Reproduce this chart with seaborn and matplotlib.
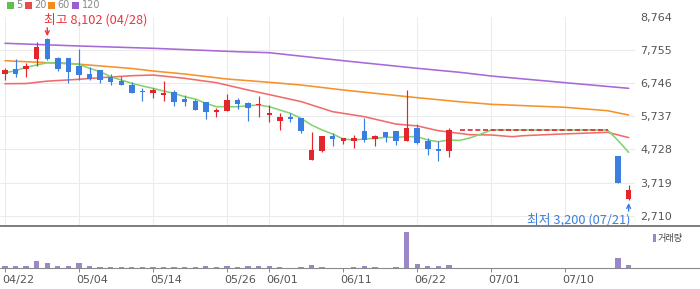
import numpy as np
import pandas as pd
import seaborn as sns
import matplotlib.pyplot as plt
import matplotlib.transforms as mtransforms
from matplotlib.patches import Rectangle
from matplotlib.lines import Line2D

# KRX trading days shown on the chart
holidays = ['2026-05-01', '2026-05-05', '2026-05-25', '2026-06-03', '2026-07-17']
days = pd.bdate_range('2026-04-22', '2026-07-21', freq='C', holidays=holidays)

# daily candles (06/26 - 07/16: trading halt, no volume)
open_ = [7026, 7169, 7178, 7482, 8080, 7503, 7503, 7260, 7017, 7138,
         6935, 6804, 6683, 6510, 6449, 6388, 6470, 6257, 6197, 6166,
         5862, 5893, 6227, 6136, 6066, 5781, 5598, 5711, 5680, 4404,
         4678, 5133, 4990, 4990, 5285, 5033, 5255, 5285, 4990, 5376,
         4982, 4738, 4687] + [5316] * 15 + [4526, 3229]
high = [7208, 7473, 7360, 7980, 8102, 7520, 7510, 7776, 7220, 7150,
        7017, 6956, 6783, 6582, 6582, 6804, 6531, 6379, 6248, 6170,
        5993, 6409, 6288, 6166, 6358, 6075, 5823, 5841, 5690, 5264,
        5140, 5215, 5075, 5164, 5671, 5164, 5260, 5290, 6531, 5498,
        5063, 4982, 5376] + [5316] * 15 + [4526, 3645]
low = [6835, 6935, 6935, 7260, 7442, 7117, 6734, 6835, 6835, 6753,
       6683, 6683, 6430, 6206, 6297, 6206, 6054, 6054, 5923, 5650,
       5720, 5890, 5963, 5589, 5720, 5568, 5316, 5568, 5234, 4400,
       4657, 4839, 4881, 4778, 4960, 4839, 4960, 4860, 4990, 4900,
       4556, 4383, 4504] + [5316] * 15 + [3715, 3200]
close = [7138, 7026, 7260, 7828, 7482, 7178, 7087, 6996, 6874, 6835,
         6783, 6692, 6449, 6461, 6531, 6440, 6175, 6175, 5932, 5872,
         5923, 6227, 6115, 5984, 6084, 5832, 5711, 5659, 5294, 4708,
         5133, 5042, 5073, 5073, 5012, 5133, 5112, 4990, 5376, 4930,
         4747, 4687, 5316] + [5316] * 15 + [3715, 3493]
volume = [85, 85, 85, 335, 235, 85, 85, 235, 85, 35,
          35, 35, 35, 35, 35, 35, 35, 35, 35, 85,
          35, 85, 35, 85, 85, 85, 35, 10, 35, 135,
          35, 10, 10, 35, 85, 35, 10, 35, 1800, 185,
          85, 85, 135] + [0] * 15 + [500, 135]

# moving averages
ma5 = [7056, 7117, 7220, 7290, 7360, 7360, 7342, 7312, 7190, 7087,
       6935, 6835, 6734, 6652, 6582, 6500, 6430, 6327, 6257, 6127,
       6023, 6023, 6023, 6054, 6075, 6023, 5923, 5823, 5671, 5467,
       5316, 5194, 5042, 5012, 5042, 5063, 5094, 5094, 5112, 5112,
       5012, 4960, 5012, 4999, 5076, 5190] + [5316] * 12 + [4996, 4638]
ma20_day = [0, 2, 4, 7, 9, 12, 14, 17, 20, 23, 28, 31, 34, 37, 39, 41, 44, 46, 48, 49, 52, 57, 59]
ma20 = [6722, 6728, 6800, 6856, 6904, 6965, 6986, 6886, 6753, 6531, 6180, 5872,
        5720, 5495, 5440, 5294, 5173, 5164, 5112, 5142, 5185, 5245, 5085]
ma60_day = [0, 7, 12, 14, 17, 21, 25, 28, 32, 39, 43, 46, 53, 57, 59]
ma60 = [7421, 7315, 7184, 7108, 7017, 6865, 6765, 6683, 6531, 6297, 6175, 6096, 6005, 5902, 5771]
ma120_day = [0, 7, 14, 22, 25, 32, 39, 43, 46, 53, 59]
ma120 = [7950, 7868, 7798, 7694, 7664, 7421, 7190, 7069, 6956, 6753, 6582]

tick_days = ['04/22', '05/04', '05/14', '05/26', '06/01', '06/11', '06/22', '07/01', '07/10']
price_ticks = [2710, 3719, 4728, 5737, 6746, 7755, 8764]

W, H = 700, 289
UP, DOWN = '#e2262b', '#3a7ee0'
KR = ['Noto Sans CJK KR', 'DejaVu Sans']

sns.set_theme(style='white')
plt.rcParams['font.family'] = ['DejaVu Sans']

df = pd.DataFrame(dict(day=days, open=open_, high=high, low=low, close=close, volume=volume))
df['x'] = np.arange(len(df))
labels = df.day.dt.strftime('%m/%d')
tick_idx = [labels.tolist().index(t) for t in tick_days]

fig = plt.figure(figsize=(W / 100, H / 100), dpi=100)


def box(l, t, r, b):
    return [l / W, 1 - b / H, (r - l) / W, (b - t) / H]


ax = fig.add_axes(box(0, 16.5, 635, 226))
vax = fig.add_axes(box(0, 226, 635, 268))

# moving average lines
for xs, ys, c in [(ma120_day, ma120, '#a868d8'), (ma60_day, ma60, '#f5922a'),
                  (ma20_day, ma20, '#f26b6b'), (df.x, ma5, '#84d270')]:
    sns.lineplot(x=list(xs), y=ys, ax=ax, color=c, lw=1.15, zorder=2)

# candles
tr = df[df.volume > 0]
col = np.where(tr.close >= tr.open, UP, DOWN)
ax.vlines(tr.x, tr.low, tr.high, colors=col, lw=0.85, zorder=3)
body = np.maximum((tr.close - tr.open).abs(), 30)
ax.bar(tr.x, body, bottom=np.minimum(tr.open, tr.close), width=0.52, color=col, lw=0, zorder=4)

# halted days
hl = df[df.volume == 0]
ax.plot(hl.x, hl.close, color=UP, lw=1.2, ls=(0, (3, 1.6)), zorder=5)

ax.set_xlim(-0.473, 59.6)
ax.set_ylim(2399, 8764)
ax.set_xticks(tick_idx)
ax.set_yticks(price_ticks)
ax.set_yticklabels([f'{v:,}' for v in price_ticks])
ax.set(xlabel='', ylabel='')
ax.set_axisbelow(True)
ax.grid(True, color='#ebebeb', lw=0.75)
ax.yaxis.tick_right()
ax.tick_params(axis='x', length=0, labelbottom=False)
ax.tick_params(axis='y', length=0, pad=3.6, labelsize=8, labelcolor='#555555')
sns.despine(ax=ax, left=True, bottom=True)

# high / low marks
hi_i = df.high.idxmax()
lo_i = df.low.idxmin()
hi, lo = df.high[hi_i], df.low[lo_i]
ax.annotate(f'최고 {hi:,} ({labels[hi_i]})', xy=(hi_i, hi), xytext=(-3, 12),
            textcoords='offset pixels', ha='left', va='bottom', color='#f0333b',
            fontsize=9.2, family=KR, annotation_clip=False)
ax.annotate('', xy=(hi_i, hi), xytext=(0, 10.5), textcoords='offset pixels',
            arrowprops=dict(arrowstyle='->', color='#f0333b', lw=1, shrinkA=0, shrinkB=1.5,
                            mutation_scale=7), annotation_clip=False)
ax.annotate(f'최저 {lo:,} ({labels[lo_i]})', xy=(lo_i, lo), xytext=(2, -13),
            textcoords='offset pixels', ha='right', va='top', color='#3a7ee0',
            fontsize=9.2, family=KR, annotation_clip=False)
ax.annotate('', xy=(lo_i, lo), xytext=(0, -11.5), textcoords='offset pixels',
            arrowprops=dict(arrowstyle='->', color='#3a7ee0', lw=1, shrinkA=0, shrinkB=2.4,
                            mutation_scale=7), annotation_clip=False)

# volume
vax.bar(df.x, df.volume, width=0.5, color='#9b87c7', lw=0)
vax.set_xlim(-0.473, 59.6)
vax.set_ylim(0, 2100)
vax.set_yticks([])
vax.set_xticks(tick_idx)
vax.set_xticklabels(tick_days, ha='left')
vax.tick_params(axis='x', bottom=True, length=2.9, width=0.7, color='#888888', pad=2.5,
                labelsize=8, labelcolor='#555555')
sns.despine(ax=vax, left=True, bottom=True)
offset = mtransforms.ScaledTranslation(-3 / 100, 0, fig.dpi_scale_trans)
for lab in vax.get_xticklabels():
    lab.set_transform(lab.get_transform() + offset)

# panel separators
fig.add_artist(Line2D([0, 1], [1 - 225.5 / H] * 2, color='#737373', lw=1.3))
fig.add_artist(Line2D([0, 1], [1 - 268 / H] * 2, color='#8a8a8a', lw=0.8))

# legends
for lab, c, px in [('5', '#63bf4c', 7), ('20', '#e64c4c', 25), ('60', '#f08c22', 48), ('120', '#9b5fd0', 72)]:
    fig.add_artist(Rectangle((px / W, 1 - 8.7 / H), 6.7 / W, 6.7 / H, transform=fig.transFigure,
                             color=c, lw=0))
    fig.text((px + 9.5) / W, 1 - 5.5 / H, lab, fontsize=7, color='#888888', va='center')
fig.add_artist(Rectangle((653 / W, 1 - 241.7 / H), 3.3 / W, 7.4 / H, transform=fig.transFigure,
                         color='#9b87c7', lw=0))
fig.text(657.5 / W, 1 - 238 / H, '거래량', family=KR, fontsize=6.6, color='#444444', va='center')

fig.savefig('out.png', dpi=100)
